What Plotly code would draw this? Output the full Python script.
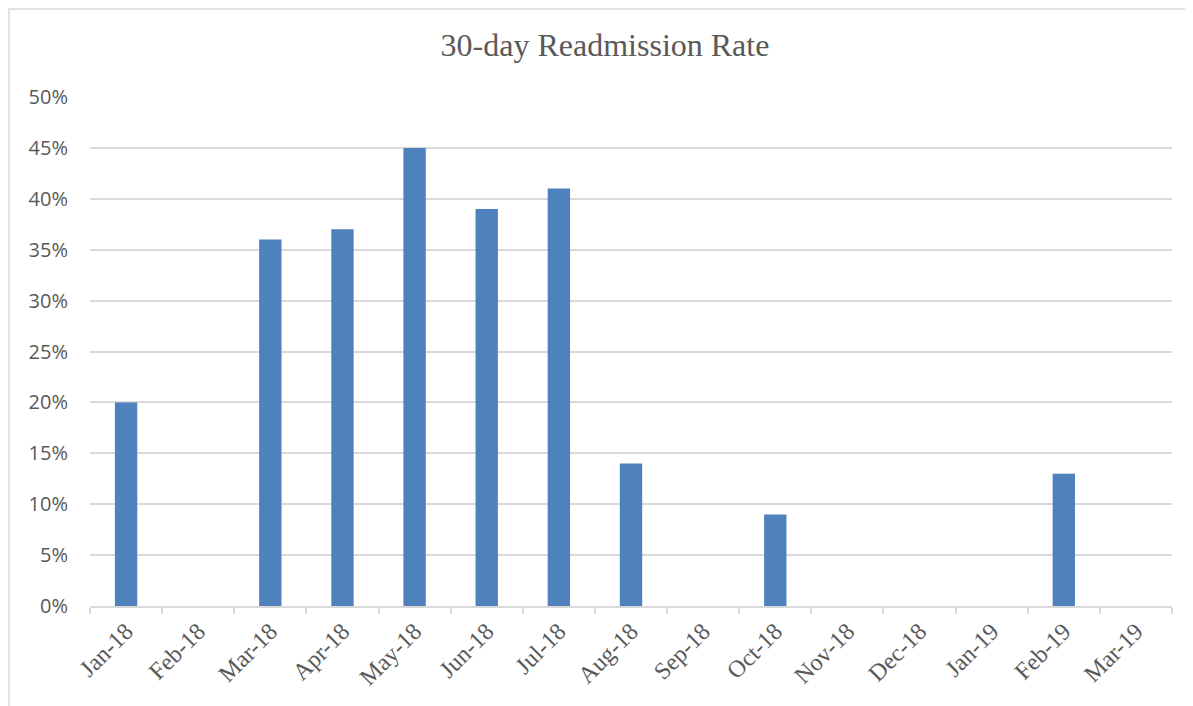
import plotly.graph_objects as go

months = ["Jan-18", "Feb-18", "Mar-18", "Apr-18", "May-18", "Jun-18", "Jul-18",
          "Aug-18", "Sep-18", "Oct-18", "Nov-18", "Dec-18", "Jan-19", "Feb-19", "Mar-19"]
rates = [20, None, 36, 37, 45, 39, 41, 14, None, 9, None, None, None, 13, None]
y_ticks = [0, 5, 10, 15, 20, 25, 30, 35, 40, 45, 50]
y_labels = [f"{v}%" for v in y_ticks]

W, H = 1193, 706
# page body adds an 8px offset; compensate
ml, mr, mt, mb = 82, 29, 89, 108
pw, ph = W - ml - mr, H - mt - mb

fig = go.Figure(go.Bar(x=months, y=rates, marker=dict(color="#4f81bd", line=dict(width=0)),
                       width=0.31))

fig.update_layout(
    width=W, height=H,
    margin=dict(l=ml, r=mr, t=mt, b=mb, autoexpand=False),
    paper_bgcolor="white", plot_bgcolor="white",
    showlegend=False,
    title=dict(text="30-day Readmission Rate", x=(605 - 8 - ml) / pw, xanchor="center",
               xref="paper", y=1 - 37 / H, yanchor="middle",
               font=dict(family="Liberation Serif, Times New Roman, serif", size=32, color="#595959")),
    xaxis=dict(type="category", showgrid=False, showline=True, linecolor="#d9d9d9", linewidth=1.5,
               ticks="outside", tickson="boundaries", ticklen=6, tickcolor="#d9d9d9", tickwidth=1.5,
               tickangle=-45, automargin=False,
               tickfont=dict(family="Liberation Serif, Times New Roman, serif", size=24, color="#595959")),
    yaxis=dict(range=[0, 50], tickmode="array", tickvals=y_ticks, ticktext=y_labels,
               showgrid=True, gridcolor="#d9d9d9", automargin=False,
               gridwidth=1.5, zeroline=False, showline=False, ticks="", ticklabelstandoff=21,
               tickfont=dict(family="Open Sans, sans-serif", size=20, color="#595959")),
    shapes=[dict(type="rect", xref="paper", yref="paper",
                 x0=(1 - ml) / pw, x1=(W + 10 - ml) / pw,
                 y0=-(H + 10 - (H - mb)) / ph, y1=(H - mb - 1) / ph,
                 line=dict(color="#d9d9d9", width=1.5), layer="below")],
)

fig.write_html("out.html")
